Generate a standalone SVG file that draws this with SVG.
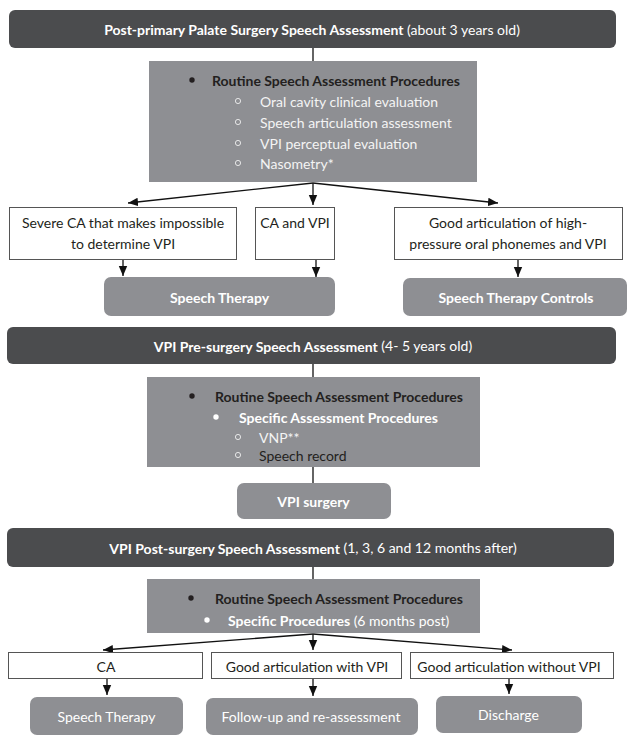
<svg xmlns="http://www.w3.org/2000/svg" width="628" height="742" viewBox="0 0 628 742">
<style>
text{font-family:Lato,"Liberation Sans",sans-serif;font-size:14px;dominant-baseline:central}
.bar{fill:#4b4c4e}
.proc{fill:#8e8f93}
.res{fill:#8e8f93}
.box{fill:#fff;stroke:#555;stroke-width:1}
.w{fill:#fff}
.d{fill:#231f20}
.l{fill:#f4f4f4}
.b{font-weight:bold}
.c{text-anchor:middle}
.ln{stroke:#111;stroke-width:1.3;fill:none}
.ar{stroke:#111;stroke-width:1.3;fill:none;marker-end:url(#ah)}
.circ{fill:none;stroke:#eee;stroke-width:0.9}
</style>
<defs>
<marker id="ah" markerUnits="userSpaceOnUse" markerWidth="10" markerHeight="10" viewBox="0 0 10 10" refX="10" refY="5" orient="auto">
<path d="M0,0.8 L10,5 L0,9.2 z" fill="#111"/>
</marker>
</defs>

<g id="connectors">
<line class="ln" x1="313" y1="48" x2="313" y2="61"/>
<line class="ar" x1="313" y1="183" x2="128" y2="203"/>
<line class="ar" x1="313" y1="183" x2="313" y2="205"/>
<line class="ar" x1="313" y1="183" x2="498" y2="203"/>
<line class="ar" x1="123" y1="260" x2="123" y2="276"/>
<line class="ar" x1="316" y1="260" x2="316" y2="277"/>
<line class="ar" x1="518" y1="260" x2="518" y2="277"/>
<line class="ln" x1="313" y1="364" x2="313" y2="377"/>
<line class="ln" x1="313" y1="467" x2="313" y2="483"/>
<line class="ln" x1="313" y1="567" x2="313" y2="579"/>
<line class="ar" x1="313" y1="634" x2="103" y2="650"/>
<line class="ar" x1="313" y1="634" x2="313" y2="650"/>
<line class="ar" x1="313" y1="634" x2="512" y2="650"/>
<line class="ar" x1="107" y1="678" x2="107" y2="695"/>
<line class="ar" x1="313" y1="678" x2="313" y2="696"/>
<line class="ar" x1="509" y1="678" x2="509" y2="694"/>
</g>

<g id="bar1">
<rect class="bar" x="9" y="10" width="607" height="38" rx="6"/>
<text class="w c" x="312" y="29"><tspan class="b">Post-primary Palate Surgery Speech Assessment</tspan> (about 3 years old)</text>
</g>

<g id="proc1">
<rect class="proc" x="149" y="61" width="328" height="121"/>
<circle cx="192" cy="80" r="2.7" fill="#231f20"/>
<text class="d b" x="212" y="80">Routine Speech Assessment Procedures</text>
<circle class="circ" cx="238" cy="101" r="2.6"/>
<text class="l" x="260" y="101">Oral cavity clinical evaluation</text>
<circle class="circ" cx="238" cy="122" r="2.6"/>
<text class="l" x="260" y="122">Speech articulation assessment</text>
<circle class="circ" cx="238" cy="143" r="2.6"/>
<text class="l" x="260" y="143">VPI perceptual evaluation</text>
<circle class="circ" cx="238" cy="163" r="2.6"/>
<text class="l" x="260" y="163">Nasometry*</text>
</g>

<g id="out1a">
<rect class="box" x="9.5" y="207.5" width="227" height="52"/>
<text class="d c" x="123" y="222">Severe CA that makes impossible</text>
<text class="d c" x="123" y="243">to determine VPI</text>
</g>
<g id="out1b">
<rect class="box" x="255.5" y="207.5" width="79" height="52"/>
<text class="d c" x="295" y="222">CA and VPI</text>
</g>
<g id="out1c">
<rect class="box" x="394.5" y="207.5" width="228" height="52"/>
<text class="d c" x="508" y="222">Good articulation of high-</text>
<text class="d c" x="508" y="243">pressure oral phonemes and VPI</text>
</g>

<g id="therapy1">
<rect class="res" x="104" y="277" width="231" height="39" rx="7"/>
<text class="w b c" x="219.5" y="297">Speech Therapy</text>
</g>
<g id="controls1">
<rect class="res" x="403" y="278" width="224" height="38" rx="7"/>
<text class="w b c" x="516" y="297">Speech Therapy Controls</text>
</g>

<g id="bar2">
<rect class="bar" x="7" y="327" width="609" height="37" rx="6"/>
<text class="w c" x="313" y="345.5"><tspan class="b">VPI Pre-surgery Speech Assessment</tspan> (4- 5 years old)</text>
</g>

<g id="proc2">
<rect class="proc" x="147" y="377" width="333" height="90"/>
<circle cx="192" cy="396" r="2.7" fill="#231f20"/>
<text class="d b" x="215" y="396">Routine Speech Assessment Procedures</text>
<circle cx="216" cy="417" r="2.7" fill="#fff"/>
<text class="w b" x="239" y="417">Specific Assessment Procedures</text>
<circle class="circ" cx="238" cy="437" r="2.6"/>
<text class="l" x="259" y="437">VNP**</text>
<circle class="circ" cx="238" cy="455" r="2.6"/>
<text class="d" x="259" y="455">Speech record</text>
</g>

<g id="surgery">
<rect class="res" x="237" y="483" width="154" height="36" rx="7"/>
<text class="w b c" x="313.5" y="501.5">VPI surgery</text>
</g>

<g id="bar3">
<rect class="bar" x="7" y="528" width="607" height="39" rx="6"/>
<text class="w c" x="313" y="547.5"><tspan class="b">VPI Post-surgery Speech Assessment</tspan> (1, 3, 6 and 12 months after)</text>
</g>

<g id="proc3">
<rect class="proc" x="147" y="579" width="333" height="54"/>
<circle cx="191" cy="598" r="2.7" fill="#231f20"/>
<text class="d b" x="215" y="598">Routine Speech Assessment Procedures</text>
<circle cx="207" cy="620" r="2.7" fill="#fff"/>
<text class="w" x="228" y="620"><tspan class="b">Specific Procedures</tspan> (6 months post)</text>
</g>

<g id="out3a">
<rect class="box" x="8.5" y="652.5" width="194" height="26"/>
<text class="d c" x="106" y="666">CA</text>
</g>
<g id="out3b">
<rect class="box" x="211.5" y="652.5" width="190" height="26"/>
<text class="d c" x="307" y="666">Good articulation with VPI</text>
</g>
<g id="out3c">
<rect class="box" x="410.5" y="652.5" width="203" height="26"/>
<text class="d c" x="509" y="666">Good articulation without VPI</text>
</g>

<g id="therapy3">
<rect class="res" x="30" y="697" width="153" height="38" rx="7"/>
<text class="w c" x="106.5" y="716">Speech Therapy</text>
</g>
<g id="followup">
<rect class="res" x="206" y="698" width="212" height="37" rx="7"/>
<text class="w c" x="311" y="716.5">Follow-up and re-assessment</text>
</g>
<g id="discharge">
<rect class="res" x="436" y="696" width="146" height="37" rx="7"/>
<text class="w c" x="508.5" y="714">Discharge</text>
</g>
</svg>
